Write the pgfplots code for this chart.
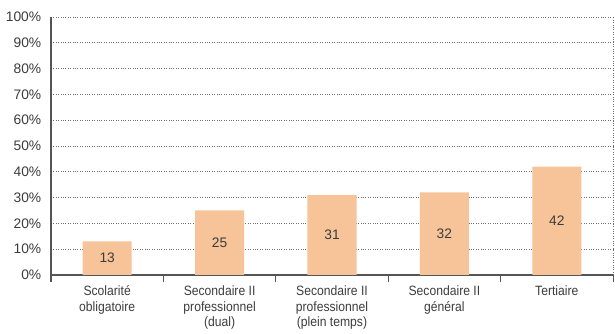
\documentclass[border=0pt]{standalone}
\usepackage{pgfplots}
\pgfplotsset{compat=1.18}
\usepackage{pgfplotstable}
\usepackage{fontspec}
\setmainfont{Liberation Sans}[FakeStretch=0.9]
\newfontfamily\numfont{Liberation Sans}
\definecolor{barc}{RGB}{246,196,152}
\definecolor{txt}{RGB}{60,60,60}
\definecolor{axc}{RGB}{85,85,85}
\definecolor{gridc}{RGB}{110,110,110}
\pgfplotstableread{
x y half
0 13 6.5
1 25 12.5
2 31 15.5
3 32 16
4 42 21
}\data
\begin{document}
\begin{tikzpicture}
\begin{axis}[
  name=ax,
  scale only axis,
  width=562pt, height=258pt,
  xmin=-0.5, xmax=4.5,
  ymin=0, ymax=100,
  ytick={0,10,...,100},
  yticklabel={\pgfmathprintnumber{\tick}\%},
  /pgf/number format/assume math mode=true,
  xtick={0,1,2,3,4},
  xticklabels={Scolarité\\obligatoire, Secondaire II\\professionnel\\(dual), Secondaire II\\professionnel\\(plein temps), Secondaire II\\général, Tertiaire},
  xticklabel style={align=center, font=\fontsize{13.5}{15.5}\selectfont, text=txt, yshift=-3pt},
  yticklabel style={font=\numfont\fontsize{13.8}{15.5}\selectfont, text=txt, xshift=-2pt},
  major x tick style={draw=none},
  minor xtick={-0.5,0.5,1.5,2.5,3.5,4.5},
  minor x tick style={draw=axc, line width=0.8pt},
  minor tick length=7pt,
  tick align=outside,
  major y tick style={draw=none},
  axis x line*=bottom,
  axis y line*=left,
  axis line style={draw=axc, line width=1.3pt, -},
  x axis line style={line width=1.5pt},
  y axis line style={line width=1.3pt, shorten <=-7pt},
  ymajorgrids,
  grid style={draw=gridc, line width=0.6pt, dash pattern=on 0.8pt off 1.6pt},
  clip=false,
]
\addplot[ybar, bar width=0.436, fill=barc, draw=none] table[x=x, y=y] {\data};
\addplot[draw=none, mark=none, nodes near coords, point meta=explicit symbolic,
  nodes near coords style={anchor=center, font=\numfont\fontsize{13.8}{15.5}\selectfont, text=txt}]
  table[x=x, y=half, meta=y] {\data};
\draw[draw=gridc, line width=0.6pt, dash pattern=on 0.8pt off 1.6pt] (axis cs:4.5,0) -- (axis cs:4.5,100);
\end{axis}
\path (ax.south west) ++(-51pt,-59pt) coordinate (bl);
\path (ax.north east) ++(2pt,17pt) coordinate (tr);
\path (bl) rectangle (tr);
\end{tikzpicture}
\end{document}
